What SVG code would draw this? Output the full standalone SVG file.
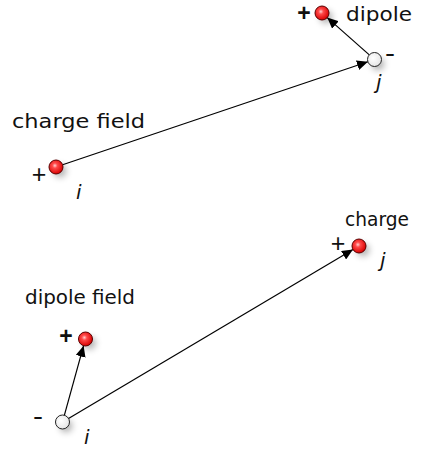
<svg xmlns="http://www.w3.org/2000/svg" width="423" height="450" viewBox="0 0 423 450">
<defs>
<radialGradient id="red" cx="0.42" cy="0.4" r="0.6">
<stop offset="0" stop-color="#ffd0d0"/>
<stop offset="0.3" stop-color="#ff4a4a"/>
<stop offset="1" stop-color="#d80000"/>
</radialGradient>
<radialGradient id="wht" cx="0.4" cy="0.4" r="0.65">
<stop offset="0" stop-color="#ffffff"/>
<stop offset="1" stop-color="#e4e4e4"/>
</radialGradient>
<filter id="sh" x="-2" y="-2" width="5" height="5">
<feGaussianBlur stdDeviation="3.5"/>
</filter>
<marker id="ah" markerUnits="userSpaceOnUse" markerWidth="12" markerHeight="10" refX="11" refY="5" orient="auto">
<path d="M0,0 L11,5 L0,10 Z" fill="#000"/>
</marker>
</defs>
<style>
.lbl{font-family:"DejaVu Sans","Liberation Sans",sans-serif;font-size:20px;fill:#111}
.idx{font-family:"DejaVu Sans","Liberation Sans",sans-serif;font-size:20px;font-style:italic;fill:#111}
.sgn{font-family:"Liberation Sans",Arial,sans-serif;font-size:25px;fill:#111;text-anchor:middle}
.bold{font-weight:bold}
.ball{fill:url(#red);stroke:#5a0000;stroke-width:1}
.neu{fill:url(#wht);stroke:#222;stroke-width:1}
.shadow{fill:#000;opacity:0.35;filter:url(#sh)}
.conn{stroke:#000;stroke-width:1.2;fill:none;marker-end:url(#ah)}
</style>
<g id="connectors">
<line class="conn" x1="62.6" y1="164.8" x2="367.9" y2="61.7"/>
<line class="conn" x1="369.3" y1="54.9" x2="327.2" y2="17.6"/>
<line class="conn" x1="64.4" y1="415.2" x2="83.6" y2="345.7"/>
<line class="conn" x1="68.5" y1="418.4" x2="353" y2="249.6"/>
</g>
<g id="dipole-plus-top">
<circle class="shadow" cx="326" cy="17" r="6"/>
<circle class="ball" cx="322" cy="13" r="7"/>
<text class="sgn bold" x="304" y="21" style="font-size:23px">+</text>
<text class="lbl" x="346" y="21" textLength="66" lengthAdjust="spacingAndGlyphs">dipole</text>
</g>
<g id="j-top">
<circle class="shadow" cx="378" cy="64" r="6"/>
<circle class="neu" cx="374.5" cy="59.5" r="7"/>
<text class="sgn" x="390" y="62" textLength="10" lengthAdjust="spacingAndGlyphs">-</text>
<text class="idx" x="376" y="89">j</text>
</g>
<g id="i-top">
<text class="lbl" x="12" y="128" textLength="133" lengthAdjust="spacingAndGlyphs">charge field</text>
<circle class="shadow" cx="60" cy="171" r="6"/>
<circle class="ball" cx="56" cy="167" r="7"/>
<text class="sgn" x="39" y="183">+</text>
<text class="idx" x="76" y="199">i</text>
</g>
<g id="j-bottom">
<text class="lbl" x="345" y="226" textLength="64" lengthAdjust="spacingAndGlyphs">charge</text>
<circle class="shadow" cx="363" cy="250" r="6"/>
<circle class="ball" cx="359" cy="246" r="7"/>
<text class="sgn" x="338" y="252">+</text>
<text class="idx" x="380" y="267">j</text>
</g>
<g id="dipole-plus-bottom">
<text class="lbl" x="25" y="304" textLength="110" lengthAdjust="spacingAndGlyphs">dipole field</text>
<circle class="shadow" cx="89.5" cy="343" r="6"/>
<circle class="ball" cx="85.5" cy="339" r="7"/>
<text class="sgn bold" x="66" y="344" style="font-size:23px">+</text>
</g>
<g id="i-bottom">
<circle class="shadow" cx="66" cy="426" r="6"/>
<circle class="neu" cx="62.5" cy="422" r="7"/>
<text class="sgn" x="38" y="425" textLength="10" lengthAdjust="spacingAndGlyphs">-</text>
<text class="idx" x="84" y="444">i</text>
</g>
</svg>
